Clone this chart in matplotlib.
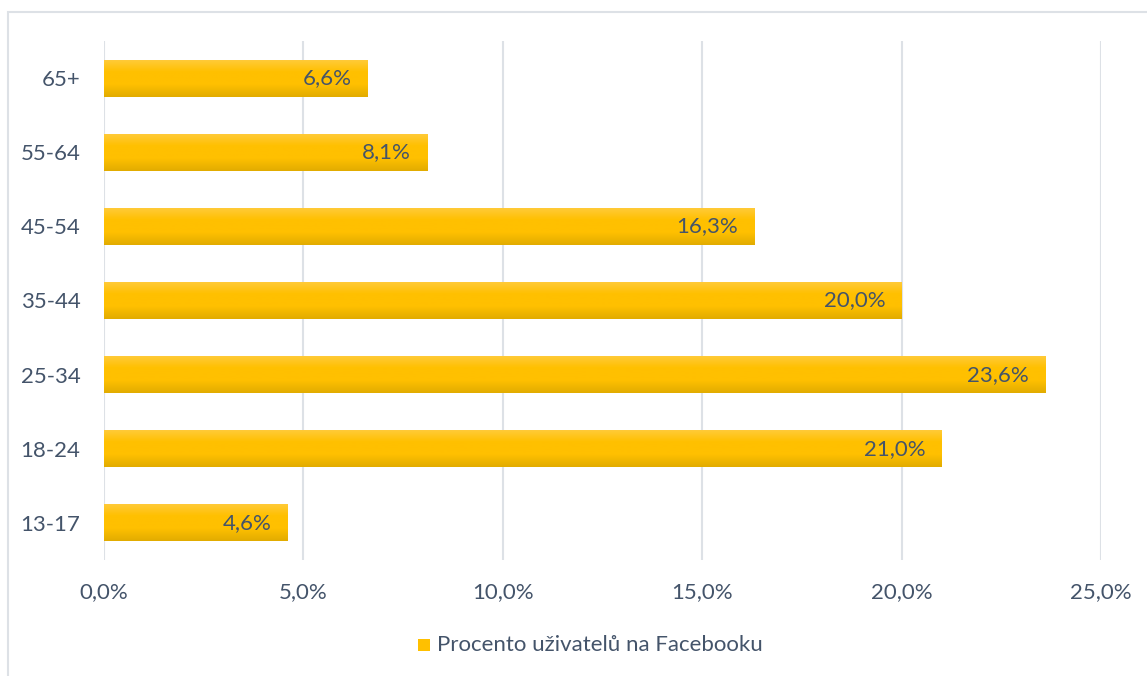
import matplotlib as mpl
mpl.use('Agg')
import matplotlib.pyplot as plt
import numpy as np
from matplotlib.colors import LinearSegmentedColormap
from matplotlib.patches import Rectangle

age_groups = ['13-17', '18-24', '25-34', '35-44', '45-54', '55-64', '65+']
share = [4.6, 21.0, 23.6, 20.0, 16.3, 8.1, 6.6]
x_ticks = [0, 5, 10, 15, 20, 25]
series_name = 'Procento uživatelů na Facebooku'

text_col = '#44546A'
grid_col = '#DDE1E6'
fs = 16
gold = LinearSegmentedColormap.from_list('gold', ['#E2AC00', '#FFC000', '#FFC000', '#FFCB3C'])

plt.rcParams['font.family'] = ['Lato', 'DejaVu Sans']

fig = plt.figure(figsize=(11.47, 6.76), dpi=100)
ax = fig.add_axes([104 / 1147, 116 / 676, 997 / 1147, 519 / 676])

y = np.arange(len(age_groups))
bars = ax.barh(y, share, height=0.5, color='#FFC000', zorder=2)

# vertical gradient on every bar
grad = np.linspace(0, 1, 64).reshape(-1, 1)
for b in bars:
    x0, y0 = b.get_x(), b.get_y()
    w, h = b.get_width(), b.get_height()
    im = ax.imshow(grad, cmap=gold, aspect='auto', origin='lower',
                   extent=(x0, x0 + w, y0, y0 + h), zorder=3)
    im.set_clip_path(b)

for b, v in zip(bars, share):
    ax.text(v - 0.4, b.get_y() + b.get_height() / 2,
            '{:.1f}%'.format(v).replace('.', ','),
            ha='right', va='center', fontsize=fs, color=text_col, zorder=4)

ax.set_xlim(0, 25)
ax.set_ylim(-0.5, len(age_groups) - 0.5)
ax.set_xticks(x_ticks)
ax.set_xticklabels(['{:.1f}%'.format(t).replace('.', ',') for t in x_ticks])
ax.set_yticks(y)
ax.set_yticklabels(age_groups)
ax.tick_params(length=0, labelsize=fs, labelcolor=text_col)
ax.tick_params(axis='x', pad=16)
ax.tick_params(axis='y', pad=17)
ax.grid(axis='x', color=grid_col, linewidth=1.5, zorder=0)
ax.set_axisbelow(True)
for s in ax.spines.values():
    s.set_visible(False)

# legend swatch and label
fig.patches.append(Rectangle((418 / 1147, (676 - 651) / 676), 12 / 1147, 12 / 676,
                             transform=fig.transFigure, facecolor='#FFC000',
                             edgecolor='none'))
fig.text(437 / 1147, (676 - 645) / 676, series_name, ha='left', va='center',
         fontsize=fs, color=text_col)

# outer frame
fig.patches.append(Rectangle((8 / 1147, -0.05), 1.2, (676 - 12) / 676 + 0.05,
                             transform=fig.transFigure, fill=False,
                             edgecolor=grid_col, linewidth=1.5))

fig.savefig('out.png', dpi=100)
